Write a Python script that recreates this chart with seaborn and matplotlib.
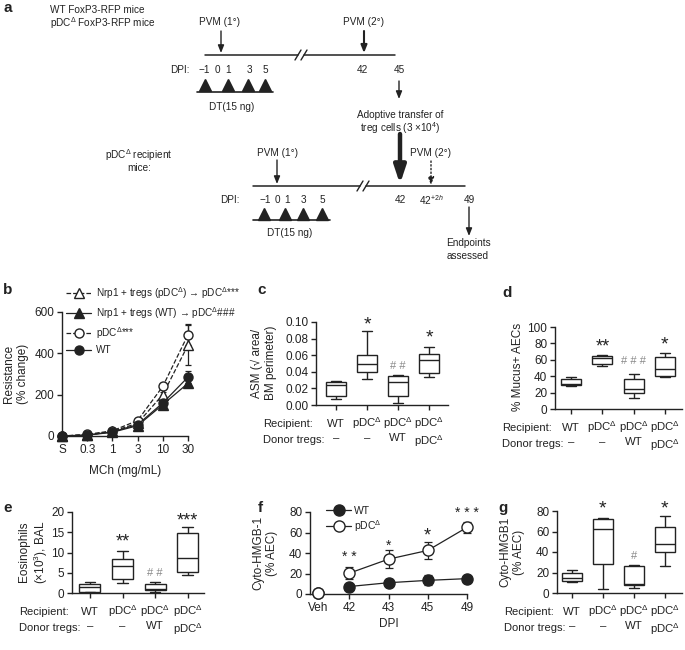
import numpy as np
import pandas as pd
import seaborn as sns
import matplotlib.pyplot as plt
from matplotlib.lines import Line2D
from matplotlib.ticker import FormatStrFormatter

W, H = 685, 650
D = r'pDC$^{\Delta}$'

# ---- b: airway resistance (% change) vs MCh dose ----
mch_labels = ['S', '0.3', '1', '3', '10', '30']
res_wt = [0, 5, 20, 55, 160, 285]
res_wt_err = [2, 3, 4, 6, 10, 28]
res_treg_wt = [0, 4, 18, 50, 152, 255]
res_treg_wt_err = [2, 3, 4, 6, 10, 15]
res_pdc = [0, 8, 25, 75, 240, 490]
res_pdc_err = [2, 3, 5, 8, 12, 50]
res_treg_pdc = [0, 5, 22, 62, 200, 440]
res_treg_pdc_err = [2, 3, 5, 8, 15, 95]

# ---- box panels: five-number summaries (min, q1, median, q3, max) ----
box_groups = ['WT', 'pDC', 'pDC+WT', 'pDC+pDC']
recipient_labels = ['WT', D, D, D]
donor_labels = ['–', '–', 'WT', D]

asm_wt = [0.007, 0.011, 0.024, 0.028, 0.029]
asm_pdc = [0.031, 0.040, 0.050, 0.060, 0.089]
asm_treg_wt = [0.002, 0.011, 0.028, 0.035, 0.036]
asm_treg_pdc = [0.034, 0.038, 0.054, 0.062, 0.070]
asm_marks = ['', '*', '# #', '*']
asm_mark_y = [0, 0.096, 0.047, 0.081]

mucus_wt = [28, 29, 31, 37, 39]
mucus_pdc = [53, 55, 62, 65, 66]
mucus_treg_wt = [14, 19, 25, 36, 43]
mucus_treg_pdc = [39, 40, 49, 64, 68]
mucus_marks = ['', '**', '# # #', '*']
mucus_mark_y = [0, 76, 59, 78]

eos_wt = [0.2, 0.3, 1.6, 2.2, 2.6]
eos_pdc = [2.4, 3.4, 6.6, 8.5, 10.3]
eos_treg_wt = [0.3, 0.7, 1.0, 2.2, 2.7]
eos_treg_pdc = [4.5, 5.2, 8.7, 14.8, 16.3]
eos_marks = ['', '**', '# #', '***']
eos_mark_y = [0, 12.6, 5.0, 17.8]

hmgb_wt_box = [11, 12, 14.5, 19.5, 22]
hmgb_pdc_box = [3.5, 28, 62, 72, 73.5]
hmgb_treg_wt_box = [4.5, 7.5, 9, 26.5, 27.5]
hmgb_treg_pdc_box = [26, 40, 48, 64, 75]
hmgb_marks = ['', '*', '#', '*']
hmgb_mark_y = [0, 82, 36, 82]

# ---- f: cytoplasmic HMGB-1 over time ----
dpi_labels = ['Veh', '42', '43', '45', '49']
hmgb_wt = [0.5, 7.3, 11, 13.3, 15]
hmgb_wt_err = [1.5, 1, 3.5, 5, 1]
hmgb_pdc = [0.5, 20.3, 34, 42.5, 65]
hmgb_pdc_err = [1.5, 6, 8.5, 8, 5]
f_marks = ['', '* *', '*', '*', '* * *']
f_mark_y = [0, 36, 47, 57, 79]

sns.set_theme(style='ticks')
plt.rcParams['font.family'] = ['Liberation Sans', 'DejaVu Sans']
plt.rcParams.update({
    'mathtext.fontset': 'custom',
    'mathtext.rm': 'Liberation Sans',
    'mathtext.it': 'Liberation Sans:italic',
    'mathtext.bf': 'Liberation Sans:bold',
    'axes.linewidth': 1.0,
    'xtick.major.width': 1.0, 'ytick.major.width': 1.0,
    'xtick.major.size': 3.5, 'ytick.major.size': 3.5,
    'xtick.major.pad': 2.5, 'ytick.major.pad': 2.0,
    'xtick.labelsize': 8.5, 'ytick.labelsize': 8.5,
    'xtick.color': '#222222', 'ytick.color': '#222222',
    'axes.edgecolor': '#222222', 'text.color': '#222222',
})

fig = plt.figure(figsize=(W / 100, H / 100), dpi=100)
ax0 = fig.add_axes([0, 0, 1, 1])
ax0.set_xlim(0, W)
ax0.set_ylim(H, 0)
ax0.axis('off')


def place(l, t, r, b):
    return fig.add_axes([l / W, 1 - b / H, (r - l) / W, (b - t) / H])


def txt(x, y, s, size=7.2, **kw):
    kw.setdefault('ha', 'center')
    kw.setdefault('va', 'center')
    ax0.text(x, y, s, fontsize=size, **kw)


def arrow(x, y0, y1, lw=1.0, style='-|>,head_width=0.18,head_length=0.45', ms=10, ls='-'):
    ax0.annotate('', xy=(x, y1), xytext=(x, y0),
                 arrowprops=dict(arrowstyle=style, lw=lw, color='#222222', ls=ls,
                                 shrinkA=0, shrinkB=0, mutation_scale=ms))


def timeline(x0, xbreak, x1, y):
    ax0.plot([x0, xbreak - 3], [y, y], color='#222222', lw=1.1)
    ax0.plot([xbreak + 3, x1], [y, y], color='#222222', lw=1.1)
    for dx in (-3, 3):
        ax0.plot([xbreak + dx - 3, xbreak + dx + 3], [y + 5, y - 5], color='#222222', lw=1.0)


# ---- panel a schematic ----
txt(8, 8, 'a', size=11, weight='bold')
txt(50, 10, 'WT FoxP3-RFP mice', ha='left')
txt(50, 23, 'pDC$^{\\Delta}$ FoxP3-RFP mice', ha='left')
txt(220, 22, 'PVM (1°)')
txt(364, 22, 'PVM (2°)')
arrow(221, 31, 53)
arrow(364, 31, 53, lw=1.5)
timeline(205, 301, 395, 55)
txt(180, 70, 'DPI:')
for x, s in zip([204, 217, 228, 249, 265, 362, 399], ['−1', '0', '1', '3', '5', '42', '45']):
    txt(x, 70, s)
ax0.plot([205, 228, 248, 265], [85] * 4, ls='none', marker='^', ms=9, color='#222222')
ax0.plot([197, 273], [92, 92], color='#222222', lw=1.2)
txt(232, 107, 'DT(15 ng)')
arrow(399, 81, 99)
txt(400, 115, 'Adoptive transfer of')
txt(400, 128, 'treg cells (3 ×10$^{4}$)')
arrow(400, 134, 184, lw=3.2, style='-|>,head_width=0.25,head_length=0.75', ms=14)
txt(139, 155, 'pDC$^{\\Delta}$ recipient')
txt(139, 168, 'mice:')
txt(278, 153, 'PVM (1°)')
arrow(277, 160, 184)
txt(431, 153, 'PVM (2°)')
arrow(431, 161, 185, ls=':')
timeline(253, 363, 465, 186)
txt(230, 200, 'DPI:')
for x, s in zip([265, 277, 287, 303, 322, 400, 431, 469],
                ['−1', '0', '1', '3', '5', '42', '42$^{+2h}$', '49']):
    txt(x, 200, s)
ax0.plot([264, 285, 303, 322], [214] * 4, ls='none', marker='^', ms=9, color='#222222')
ax0.plot([253, 330], [220, 220], color='#222222', lw=1.2)
txt(290, 233, 'DT(15 ng)')
arrow(469, 207, 236)
txt(468, 243, 'Endpoints')
txt(468, 256, 'assessed')

# ---- panel b ----
txt(8, 290, 'b', size=11, weight='bold')
axb = place(62, 312, 188, 436)
xb = np.arange(len(mch_labels))
b_series = [
    (res_treg_pdc, res_treg_pdc_err, '^', 'white', '--'),
    (res_treg_wt, res_treg_wt_err, '^', '#222222', '-'),
    (res_pdc, res_pdc_err, 'o', 'white', '--'),
    (res_wt, res_wt_err, 'o', '#222222', '-'),
]
for vals, errs, mk, fc, ls in b_series:
    axb.errorbar(xb, vals, yerr=errs, fmt='none', ecolor='#222222', elinewidth=0.9,
                 capsize=2.5, capthick=0.9, zorder=2, clip_on=False)
    sns.lineplot(x=xb, y=vals, ax=axb, color='#222222', lw=0.9, linestyle=ls, marker=mk,
                 markersize=6.5, mfc=fc, mec='#222222', mew=1.0, errorbar=None,
                 clip_on=False, zorder=3)
axb.set_xlim(0, 5)
axb.set_ylim(0, 600)
axb.set_yticks([0, 200, 400, 600])
axb.set_xticks(xb, mch_labels)
axb.set_xlabel('')
axb.set_ylabel('')
sns.despine(ax=axb)
handles = [Line2D([], [], color='#222222', lw=0.9, ls=ls, marker=mk, ms=6.5, mfc=fc, mec='#222222')
           for _, _, mk, fc, ls in b_series]
labels = ['Nrp1 + tregs (pDC$^{\\Delta}$) → pDC$^{\\Delta}$***',
          'Nrp1 + tregs (WT) → pDC$^{\\Delta}$###',
          'pDC$^{\\Delta}$***', 'WT']
fig.legend(handles, labels, loc='upper left', bbox_to_anchor=(66 / W, 1 - 285 / H),
           frameon=False, fontsize=7.2, handlelength=2.5, handletextpad=0.45,
           labelspacing=0.42, borderpad=0, borderaxespad=0)
txt(16, 374, 'Resistance\n(% change)', size=8.5, rotation=90)
txt(125, 471, 'MCh (mg/mL)', size=8.5)


# ---- box panels ----
def box_panel(ax, summaries, ylim, yticks, marks, mark_y, xlim, fmt=None):
    df = pd.DataFrame({'group': np.repeat(box_groups, 5),
                       'value': np.concatenate(summaries)})
    sns.boxplot(data=df, x='group', y='value', order=box_groups, whis=(0, 100),
                width=0.64, color='white', saturation=1, linecolor='#222222',
                linewidth=1.0, showfliers=False, ax=ax)
    ax.set_ylim(*ylim)
    ax.set_yticks(yticks)
    if fmt:
        ax.yaxis.set_major_formatter(FormatStrFormatter(fmt))
    ax.set_xlim(*xlim)
    ax.set_xticks(range(4), [''] * 4)
    ax.set_xlabel('')
    ax.set_ylabel('')
    sns.despine(ax=ax)
    for i, (m, y) in enumerate(zip(marks, mark_y)):
        if not m:
            continue
        if '#' in m:
            ax.text(i, y, m, ha='center', va='center', fontsize=8, color='#888888')
        else:
            ax.text(i, y, m, ha='center', va='center', fontsize=14 if m == '*' else 13,
                    color='#222222')
    for i in range(4):
        ax.annotate(recipient_labels[i], xy=(i, 0), xycoords=('data', 'axes fraction'),
                    xytext=(0, -22), textcoords='offset pixels', ha='center', va='baseline',
                    fontsize=8.2)
        ax.annotate(donor_labels[i], xy=(i, 0), xycoords=('data', 'axes fraction'),
                    xytext=(0, -28), textcoords='offset pixels', ha='center', va='top',
                    fontsize=8.2)
    ax.annotate('Recipient:', xy=(0, 0), xycoords='axes fraction', xytext=(-53, -22),
                textcoords='offset pixels', ha='left', va='baseline', fontsize=8)
    ax.annotate('Donor tregs:', xy=(0, 0), xycoords='axes fraction', xytext=(-53, -38),
                textcoords='offset pixels', ha='left', va='baseline', fontsize=8)


txt(262, 290, 'c', size=11, weight='bold')
axc = place(316, 322, 448, 405)
box_panel(axc, [asm_wt, asm_pdc, asm_treg_wt, asm_treg_pdc], (0, 0.10),
          [0, 0.02, 0.04, 0.06, 0.08, 0.10], asm_marks, asm_mark_y, (-0.65, 3.6), '%.2f')
txt(264, 363, 'ASM (√ area/\nBM perimeter)', size=8.5, rotation=90)

txt(507, 293, 'd', size=11, weight='bold')
axd = place(555, 327, 682, 409)
box_panel(axd, [mucus_wt, mucus_pdc, mucus_treg_wt, mucus_treg_pdc], (0, 100),
          [0, 20, 40, 60, 80, 100], mucus_marks, mucus_mark_y, (-0.52, 3.55))
txt(518, 367, '% Mucus+ AECs', size=8.5, rotation=90)

txt(8, 508, 'e', size=11, weight='bold')
axe = place(72, 512, 204, 593)
box_panel(axe, [eos_wt, eos_pdc, eos_treg_wt, eos_treg_pdc], (0, 20),
          [0, 5, 10, 15, 20], eos_marks, eos_mark_y, (-0.55, 3.5))
txt(34, 552, 'Eosinophils\n(×10$^{3}$), BAL', size=8.5, rotation=90)

txt(503, 508, 'g', size=11, weight='bold')
axg = place(557, 511, 682, 593)
box_panel(axg, [hmgb_wt_box, hmgb_pdc_box, hmgb_treg_wt_box, hmgb_treg_pdc_box], (0, 80),
          [0, 20, 40, 60, 80], hmgb_marks, hmgb_mark_y, (-0.48, 3.55))
txt(512, 552, 'Cyto-HMGB1\n(% AEC)', size=8.5, rotation=90)

# ---- panel f ----
txt(260, 508, 'f', size=11, weight='bold')
axf = place(310, 512, 467, 594)
xf = np.array([0.2, 1, 2, 3, 4])
for vals, errs, fc in [(hmgb_wt, hmgb_wt_err, '#222222'), (hmgb_pdc, hmgb_pdc_err, 'white')]:
    axf.errorbar(xf, vals, yerr=errs, fmt='none', ecolor='#222222', elinewidth=0.9,
                 capsize=3, capthick=0.9, zorder=2, clip_on=False)
    sns.lineplot(x=xf[1:], y=vals[1:], ax=axf, color='#222222', lw=0.9, marker='o',
                 markersize=8, mfc=fc, mec='#222222', mew=1.0, errorbar=None,
                 clip_on=False, zorder=3)
    axf.plot(xf[:1], vals[:1], ls='none', marker='o', ms=8, mfc=fc, mec='#222222',
             mew=1.0, clip_on=False, zorder=3)
for x, m, y in zip(xf, f_marks, f_mark_y):
    if m:
        axf.text(x, y, m, ha='center', va='center', fontsize=13 if x == 3 else 10,
                 color='#222222')
axf.set_xlim(0, 4)
axf.set_ylim(0, 80)
axf.set_yticks([0, 20, 40, 60, 80])
axf.set_xticks(xf, dpi_labels)
axf.set_xlabel('')
axf.set_ylabel('')
sns.despine(ax=axf)
fh = [Line2D([], [], color='#222222', lw=0.9, marker='o', ms=8, mfc=fc, mec='#222222')
      for fc in ['#222222', 'white']]
fig.legend(fh, ['WT', D], loc='upper left', bbox_to_anchor=(326 / W, 1 - 506 / H),
           frameon=False, fontsize=7.5, handlelength=2.4, handletextpad=0.3,
           labelspacing=0.2, borderpad=0, borderaxespad=0)
txt(265, 553, 'Cyto-HMGB-1\n(% AEC)', size=8.5, rotation=90)
txt(389, 624, 'DPI', size=8.5)

fig.savefig('out.png', dpi=100)
